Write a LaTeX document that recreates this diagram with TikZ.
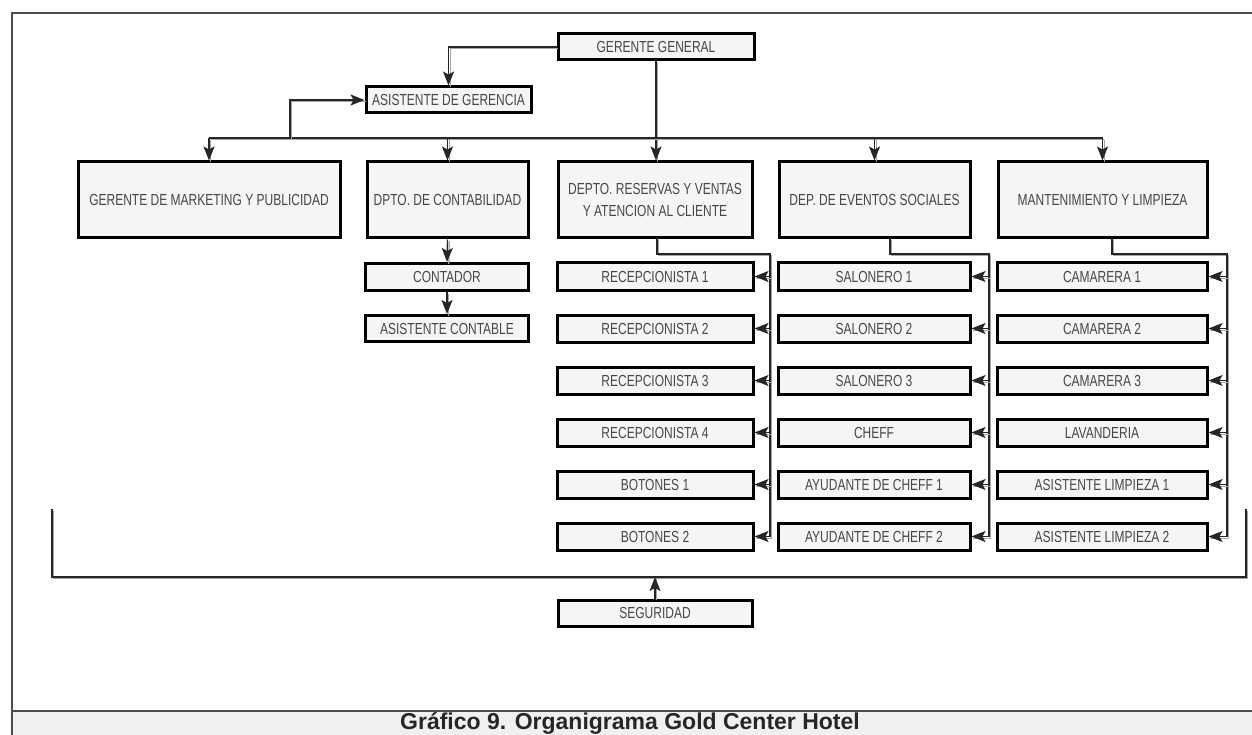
\documentclass[tikz,border=0pt]{standalone}
\usepackage{fontspec}
\setmainfont{Liberation Sans}
\newfontfamily\lab[FakeStretch=0.75]{Liberation Sans}
\usetikzlibrary{arrows.meta,calc}
\begin{document}
\begin{tikzpicture}[x=1pt,y=-1pt,
  orgbox/.style={draw=black, line width=3pt, fill=gray!8, text=black!72,
    font=\lab\fontsize{16}{22}\selectfont, inner sep=0pt, align=center},
  smallbox/.style={orgbox, minimum height=27pt},
  bigbox/.style={orgbox, minimum height=76pt},
  conn/.style={draw=black!85, line width=1.3pt,
    preaction={draw=black!35, line width=1.3pt, -, transform canvas={shift={(1.8pt,-1.8pt)}}}},
  tip/.style={-{Stealth[length=14pt,width=11pt,inset=3pt]}}]
\useasboundingbox (0,0) rectangle (1252,735);

% page frame and caption band
\fill[gray!12] (12,711) rectangle (1252,735);
\draw[black!70, line width=1.5pt] (12,735) -- (12,13) -- (1252,13);
\draw[black!70, line width=1.5pt] (12,711) -- (1252,711);
\node[font=\bfseries\fontsize{23}{26}\selectfont, text=black!85, anchor=base, inner sep=0pt] (cap) at (630,729.5) {Gráfico 9. Organigrama Gold Center Hotel};

% top management
\node[smallbox, minimum width=196pt, minimum height=26pt] (gg) at (656,47) {GERENTE GENERAL};
\node[smallbox, minimum width=165pt, minimum height=26pt] (ag) at (448.5,100) {ASISTENTE DE GERENCIA};

% departments
\node[bigbox, minimum width=262pt] (mk) at (209,200) {GERENTE DE MARKETING Y PUBLICIDAD};
\node[bigbox, minimum width=161pt] (ct) at (447.5,200) {DPTO. DE CONTABILIDAD};
\node[bigbox, minimum width=194pt] (rv) at (655,200) {DEPTO. RESERVAS Y VENTAS\\Y ATENCION AL CLIENTE};
\node[bigbox, minimum width=191pt] (ev) at (874.5,200) {DEP. DE EVENTOS SOCIALES};
\node[bigbox, minimum width=209pt] (mt) at (1102.5,200) {MANTENIMIENTO Y LIMPIEZA};

% accounting
\node[smallbox, minimum width=163pt] (cn) at (447,277) {CONTADOR};
\node[smallbox, minimum width=163pt, minimum height=26pt] (ac) at (447,328.5) {ASISTENTE CONTABLE};

% staff columns
\foreach \name/\txt [count=\i] in {r1/RECEPCIONISTA 1, r2/RECEPCIONISTA 2, r3/RECEPCIONISTA 3, r4/RECEPCIONISTA 4, r5/BOTONES 1, r6/BOTONES 2}
  \node[smallbox, minimum width=196pt] (\name) at (655,{224.5+52*\i}) {\txt};
\foreach \name/\txt [count=\i] in {e1/SALONERO 1, e2/SALONERO 2, e3/SALONERO 3, e4/CHEFF, e5/AYUDANTE DE CHEFF 1, e6/AYUDANTE DE CHEFF 2}
  \node[smallbox, minimum width=192pt] (\name) at (874,{224.5+52*\i}) {\txt};
\foreach \name/\txt [count=\i] in {m1/CAMARERA 1, m2/CAMARERA 2, m3/CAMARERA 3, m4/LAVANDERIA, m5/ASISTENTE LIMPIEZA 1, m6/ASISTENTE LIMPIEZA 2}
  \node[smallbox, minimum width=210pt] (\name) at (1102,{224.5+52*\i}) {\txt};

% security
\node[smallbox, minimum width=194pt, minimum height=26pt] (sg) at (655,613) {SEGURIDAD};

% connectors: top management
\draw[conn, tip] (gg.west) -| (ag.north);
\draw[conn, tip] (gg.south) -- (gg.south |- rv.north);
\coordinate (busL) at (mk.north |- 0,138);
\coordinate (busR) at (mt.north |- 0,138);
\draw[conn] (busL) -- (busR);
\foreach \d in {mk,ct,ev,mt}
  \draw[conn, tip] (\d.north |- busL) -- (\d.north);
\coordinate (agj) at (290,138);
\draw[conn, tip] (agj) |- (ag.west);

% connectors: accounting
\draw[conn, tip] (ct.south) -- (cn.north);
\draw[conn, tip] (cn.south) -- (ac.north);

% connectors: staff columns
\foreach \p/\c/\sx/\sp in {rv/r/657/770, ev/e/890/989, mt/m/1112/1227}{
  \coordinate (\p top) at (\sx,238);
  \coordinate (\p bend) at (\sx,254);
  \coordinate (\p spine) at (\sp,254);
  \draw[conn, tip] (\p top) -- (\p bend) -- (\p spine) |- (\c6.east);
  \foreach \k in {1,...,5}
    \draw[conn, tip] (\c\k.east -| \p spine) -- (\c\k.east);
}

% security bracket
\coordinate (brL) at (52,509);
\coordinate (brR) at (1246,509);
\coordinate (brM) at (sg.north |- 0,577);
\draw[conn] (brL) |- (brM) -| (brR);
\draw[conn, tip] (sg.north) -- (brM);
\end{tikzpicture}
\end{document}
